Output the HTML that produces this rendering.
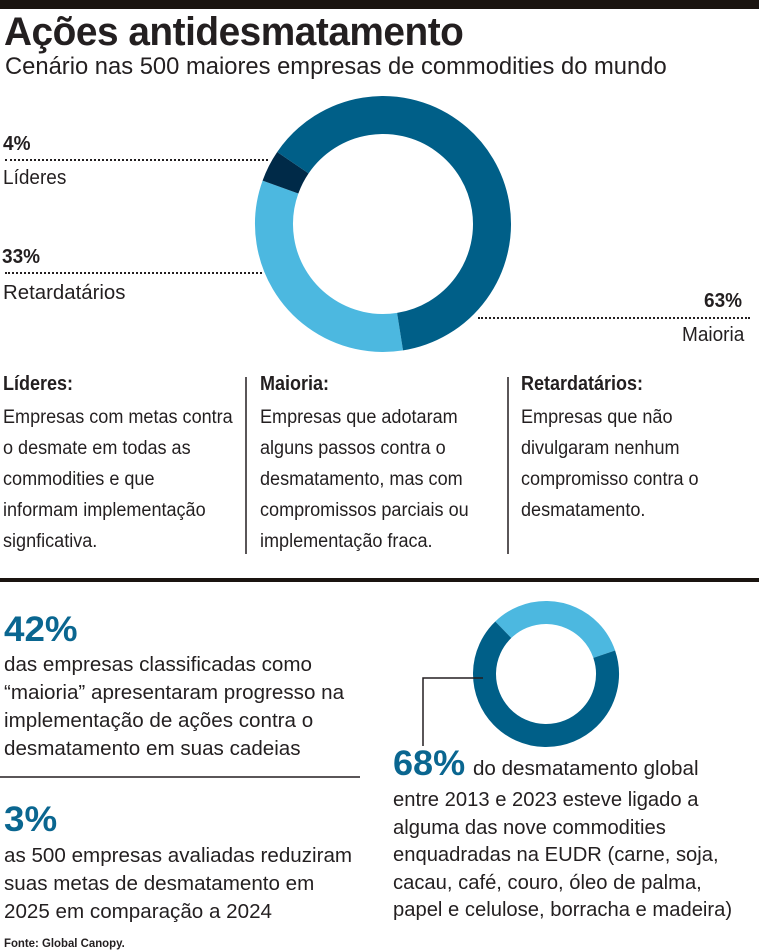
<!DOCTYPE html>
<html><head><meta charset="utf-8"><style>
body{margin:0;width:759px;height:952px;background:#fff;position:relative;overflow:hidden;font-family:"Liberation Sans",sans-serif;color:#231f20}
.t{position:absolute;white-space:nowrap;transform-origin:0 0;line-height:1}
.b{font-weight:bold}
.blue{color:#0a6690}
.dot{position:absolute;height:0;border-top:2px dotted #231f20}
</style></head><body>
<div style="position:absolute;left:0;top:0;width:759px;height:9px;background:#1a1410"></div>
<div class="t b" style="left:4px;top:12px;font-size:40px;transform:scaleX(0.97);letter-spacing:-0.5px">Ações antidesmatamento</div>
<div class="t" style="left:5px;top:55px;font-size:24px;transform:scaleX(0.99)">Cenário nas 500 maiores empresas de commodities do mundo</div>

<svg style="position:absolute;left:0;top:0" width="759" height="952">
<g transform="rotate(81 383 224)" fill="none" stroke-width="38">
<circle cx="383" cy="224" r="109" stroke="#4cb8e0" stroke-dasharray="226 459"/>
<circle cx="383" cy="224" r="109" stroke="#002a48" stroke-dasharray="27.4 657.5" stroke-dashoffset="-226"/>
<circle cx="383" cy="224" r="109" stroke="#005f88" stroke-dasharray="431.5 253.4" stroke-dashoffset="-253.4"/>
</g>
<g transform="rotate(226 546 674)" fill="none" stroke-width="23">
<circle cx="546" cy="674" r="61.5" stroke="#4cb8e0" stroke-dasharray="123.6 262.8"/>
<circle cx="546" cy="674" r="61.5" stroke="#005f88" stroke-dasharray="262.8 123.6" stroke-dashoffset="-123.6"/>
</g>
<polyline points="483,678 423,678 423,746" fill="none" stroke="#231f20" stroke-width="1.5"/>
<line x1="246" y1="377" x2="246" y2="554" stroke="#231f20" stroke-width="1.5"/>
<line x1="508" y1="377" x2="508" y2="554" stroke="#231f20" stroke-width="1.5"/>
<rect x="0" y="578" width="759" height="4" fill="#1a1410"/>
<line x1="0" y1="777" x2="360" y2="777" stroke="#231f20" stroke-width="1.5"/>
</svg>

<div class="t b" style="left:3px;top:134px;font-size:20px;transform:scaleX(0.95)">4%</div>
<div class="dot" style="left:5px;top:159px;width:263px"></div>
<div class="t" style="left:3px;top:168px;font-size:20px;transform:scaleX(0.95)">Líderes</div>
<div class="t b" style="left:2px;top:247px;font-size:20px;transform:scaleX(0.95)">33%</div>
<div class="dot" style="left:5px;top:272px;width:257px"></div>
<div class="t" style="left:3px;top:283px;font-size:20px;transform:scaleX(1.02)">Retardatários</div>
<div class="t b" style="left:704px;top:291px;font-size:20px;transform:scaleX(0.95)">63%</div>
<div class="dot" style="left:478px;top:317px;width:272px"></div>
<div class="t" style="left:682px;top:325px;font-size:20px;transform:scaleX(0.95)">Maioria</div>

<div class="t b" style="left:3px;top:374px;font-size:20px;transform:scaleX(0.9)">Líderes:</div>
<div class="t" style="left:3px;top:402px;font-size:19px;line-height:31px;transform:scaleX(0.95)">Empresas com metas contra<br>o desmate em todas as<br>commodities e que<br>informam implementação<br>signficativa.</div>
<div class="t b" style="left:260px;top:374px;font-size:20px;transform:scaleX(0.9)">Maioria:</div>
<div class="t" style="left:260px;top:402px;font-size:19px;line-height:31px;transform:scaleX(0.95)">Empresas que adotaram<br>alguns passos contra o<br>desmatamento, mas com<br>compromissos parciais ou<br>implementação fraca.</div>
<div class="t b" style="left:521px;top:374px;font-size:20px;transform:scaleX(0.9)">Retardatários:</div>
<div class="t" style="left:521px;top:402px;font-size:19px;line-height:31px;transform:scaleX(0.95)">Empresas que não<br>divulgaram nenhum<br>compromisso contra o<br>desmatamento.</div>

<div class="t b blue" style="left:4px;top:612px;font-size:35px;transform:scaleX(1.05)">42%</div>
<div class="t" style="left:4px;top:651px;font-size:20px;line-height:28px;transform:scaleX(1.03)">das empresas classificadas como<br>“maioria” apresentaram progresso na<br>implementação de ações contra o<br>desmatamento em suas cadeias</div>
<div class="t b blue" style="left:4px;top:802px;font-size:35px;transform:scaleX(1.05)">3%</div>
<div class="t" style="left:4px;top:842px;font-size:20px;line-height:28px;transform:scaleX(1.03)">as 500 empresas avaliadas reduziram<br>suas metas de desmatamento em<br>2025 em comparação a 2024</div>

<div class="t" style="left:393px;top:750px;font-size:20px;line-height:28px;transform:scaleX(1.03)"><span class="b blue" style="font-size:35px;display:inline-block;margin-right:2px">68%</span> do desmatamento global</div>
<div class="t" style="left:393px;top:787px;font-size:20px;line-height:27.5px;transform:scaleX(1.01)">entre 2013 e 2023 esteve ligado a<br>alguma das nove commodities<br>enquadradas na EUDR (carne, soja,<br>cacau, café, couro, óleo de palma,<br>papel e celulose, borracha e madeira)</div>

<div class="t b" style="left:4px;top:937px;font-size:12px;transform:scaleX(0.95)">Fonte: Global Canopy.</div>
</body></html>
